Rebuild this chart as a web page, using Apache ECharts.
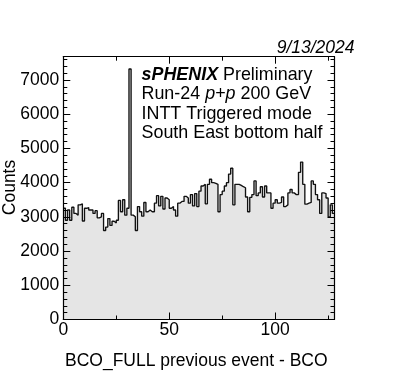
<!DOCTYPE html>
<html>
<head>
<meta charset="utf-8">
<script src="https://cdn.jsdelivr.net/npm/echarts@6/dist/echarts.min.js"></script>
<style>
html,body{margin:0;padding:0;background:#fff;}
#c{width:393px;height:381px;}
</style>
</head>
<body>
<div id="c"></div>
<script>
// Bin low edges (BCO_FULL previous event - BCO), 128 bins of width 1
const binLow = [0,1,2,3,4,5,6,7,8,9,10,11,12,13,14,15,16,17,18,19,20,21,22,23,24,25,26,27,28,29,30,31,
32,33,34,35,36,37,38,39,40,41,42,43,44,45,46,47,48,49,50,51,52,53,54,55,56,57,58,59,60,61,62,63,
64,65,66,67,68,69,70,71,72,73,74,75,76,77,78,79,80,81,82,83,84,85,86,87,88,89,90,91,92,93,94,95,
96,97,98,99,100,101,102,103,104,105,106,107,108,109,110,111,112,113,114,115,116,117,118,119,120,121,122,123,124,125,126,127];
const binWidth = 1;
// Counts per bin
const counts = [3250,2900,3200,2900,3280,3100,3050,3350,3380,2880,3250,3270,3200,3200,3100,3180,
2970,3000,3100,2600,2700,2950,2750,2870,2820,2900,3480,3150,3500,3050,3250,7320,
3050,3000,2600,3300,3150,3020,3420,3150,3200,3150,3150,3400,3620,3320,3600,3230,
3550,3500,3250,3300,3200,3020,3400,3450,3450,3600,3550,3400,3650,3320,3680,3300,
3750,3900,3950,3380,3950,4100,4000,3980,3950,3150,3650,3750,3900,4000,4250,4420,
3350,3950,3950,3920,3880,3850,3580,3150,3570,3650,4050,3620,3700,3880,3580,3900,
3700,3700,3250,3400,3500,3400,3420,3580,3300,3350,3700,3800,3700,3650,3650,4300,
4600,3950,3370,3400,3420,4050,3950,3650,3500,3100,3700,3680,3550,3000,3350,3100];
const xRange = [0, 128];
const yRange = [0, 7680];
const xMajor = 50, xMinor = 25;
const yMajor = 1000, yMinor = 200;
const annotation = ['{b|sPHENIX} Preliminary', 'Run-24 {i|p+p} 200 GeV', 'INTT Triggered mode', 'South East bottom half'];
const dateText = '9/13/2024';
const xTitle = 'BCO_FULL previous event - BCO';
const yTitle = 'Counts';

const FONT = 'Liberation Sans, Arial, Helvetica, sans-serif';
const FS = 17.5;
const FSA = 17.9;

// step histogram points
const pts = binLow.map((x, i) => [x, counts[i]]);
pts.push([binLow[binLow.length - 1] + binWidth, counts[counts.length - 1]]);

const chart = echarts.init(document.getElementById('c'), null, {renderer: 'canvas'});

function xAx(pos, interval, len, showLabel, showLine) {
  return {
    type: 'value', position: pos, min: xRange[0], max: xRange[1], interval: interval, z: 10,
    axisLine: {show: showLine, onZero: false, lineStyle: {color: '#000', width: 1.2}},
    axisTick: {show: true, inside: true, length: len, lineStyle: {color: '#000', width: 1}},
    axisLabel: {show: showLabel, margin: 2, fontFamily: FONT, fontSize: FS, color: '#000',
      formatter: v => (v % xMajor === 0 ? String(v) : '')},
    splitLine: {show: false}
  };
}
function yAx(pos, interval, len, showLabel, showLine) {
  return {
    type: 'value', position: pos, min: yRange[0], max: yRange[1], interval: interval, z: 10,
    axisLine: {show: showLine, onZero: false, lineStyle: {color: '#000', width: 1.2}},
    axisTick: {show: true, inside: true, length: len, lineStyle: {color: '#000', width: 1}},
    axisLabel: {show: showLabel, margin: 4, fontFamily: FONT, fontSize: FS, color: '#000',
      formatter: v => (v % yMajor === 0 ? String(v) : '')},
    splitLine: {show: false}
  };
}

const lineH = 19.4;
const graphics = annotation.map((t, k) => ({
  type: 'text', left: 141.5, top: 66 + k * lineH, z: 20,
  style: {text: t, font: FSA + 'px ' + FONT, fill: '#000',
    rich: {b: {fontWeight: 'bold', fontStyle: 'italic', fontSize: FSA, fontFamily: FONT},
           i: {fontStyle: 'italic', fontSize: FSA, fontFamily: FONT}}}
}));
graphics.push({type: 'text', right: 393 - 354.5, top: 39.5, z: 20,
  style: {text: dateText, font: 'italic ' + FS + 'px ' + FONT, fill: '#000'}});
graphics.push({type: 'text', left: 65, top: 352.5, z: 20,
  style: {text: xTitle, font: FS + 'px ' + FONT, fill: '#000'}});
graphics.push({type: 'text', x: 10, y: 187.5, rotation: Math.PI / 2, z: 20,
  style: {text: yTitle, font: FS + 'px ' + FONT, fill: '#000', align: 'center', verticalAlign: 'middle'}});

chart.setOption({
  animation: false,
  backgroundColor: '#fff',
  grid: {left: 63.3, right: 393 - 334.5, top: 56.7, bottom: 381 - 319.5, containLabel: false},
  xAxis: [xAx('bottom', xMajor, 7, true, true), xAx('bottom', xMinor, 4, false, false),
          xAx('top', xMajor, 7, false, true), xAx('top', xMinor, 4, false, false)],
  yAxis: [yAx('left', yMajor, 7, true, true), yAx('left', yMinor, 4, false, false),
          yAx('right', yMajor, 7, false, true), yAx('right', yMinor, 4, false, false)],
  series: [{
    type: 'line', step: 'end', data: pts, xAxisIndex: 0, yAxisIndex: 0,
    symbol: 'none', z: 2,
    lineStyle: {color: '#111', width: 1.35},
    areaStyle: {color: '#e5e5e5', opacity: 1}
  }],
  graphic: graphics
});
</script>
</body>
</html>
